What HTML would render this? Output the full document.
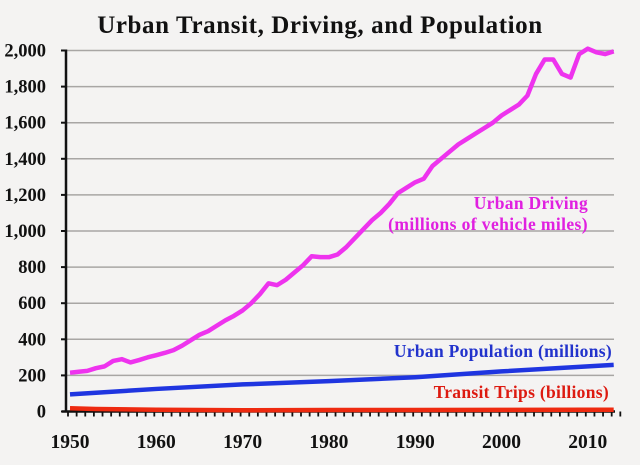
<!DOCTYPE html>
<html><head><meta charset="utf-8"><style>
body{margin:0;background:#f4f3f2;}
svg{display:block;font-family:"Liberation Serif",serif;font-weight:bold;}
</style></head><body>
<svg id="chart" width="640" height="465">
<rect width="640" height="465" fill="#f4f3f2"/>
<text x="320" y="33" text-anchor="middle" font-size="25" letter-spacing="0.6" fill="#111">Urban Transit, Driving, and Population</text>
<g id="grid"></g><g id="axes"></g><g id="series"></g>
<text x="588" y="209" text-anchor="end" font-size="17.5" letter-spacing="0.3" fill="#e020e0">Urban Driving</text>
<text x="588" y="230" text-anchor="end" font-size="17.5" letter-spacing="0.4" fill="#e020e0">(millions of vehicle miles)</text>
<text x="612" y="357" text-anchor="end" font-size="17.5" letter-spacing="0.3" fill="#2233cc">Urban Population (millions)</text>
<text x="609" y="398" text-anchor="end" font-size="17.5" letter-spacing="0.3" fill="#dd1a10">Transit Trips (billions)</text>
</svg>
<script>
const years=[];for(let y=1950;y<=2013;y++)years.push(y);
const driving=[215,220,225,240,250,280,290,272,285,300,312,325,340,365,395,425,445,475,505,530,560,600,650,710,700,730,770,810,860,855,855,870,910,960,1010,1060,1100,1150,1210,1240,1270,1290,1360,1400,1440,1480,1510,1540,1570,1600,1640,1670,1700,1750,1870,1950,1950,1870,1850,1980,2010,1990,1980,1995];
const popYears=[1950,1960,1970,1980,1990,2000,2010,2013];
const population=[95,125,150,168,190,222,250,258];
const transitYears=[1950,1953,1960,1970,1980,1990,2000,2010,2013];
const transit=[18,14,10,7,8,8.5,9,10,10];
const yTicks=[0,200,400,600,800,1000,1200,1400,1600,1800,2000];
const xTickLabels=[1950,1960,1970,1980,1990,2000,2010];
const NS='http://www.w3.org/2000/svg';
const X=y=>70+(y-1950)*86.3/10;
const Y=v=>411.5-v*0.1805;
function mk(t,a,p){const e=document.createElementNS(NS,t);for(const k in a)e.setAttribute(k,a[k]);p.appendChild(e);return e;}
const grid=document.getElementById('grid'),axes=document.getElementById('axes'),series=document.getElementById('series');
yTicks.forEach(v=>{
 if(v>0){const g=mk('line',{x1:66,x2:614,y1:Y(v),y2:Y(v),stroke:'#a8a6a4','stroke-width':1.5},grid);
 
 }
 const t=mk('line',{x1:61,x2:66,y1:Y(v),y2:Y(v),stroke:'#111','stroke-width':2},axes);
 
 
 const l=mk('text',{x:46,y:Y(v)+6,'text-anchor':'end','font-size':18.5,fill:'#111'},axes);
 l.textContent=v.toLocaleString('en-US');
 
 
});
const ya=mk('line',{x1:66,x2:66,y1:Y(2000)-1,y2:Y(0),stroke:'#111','stroke-width':2.5},axes);


const xa=mk('line',{x1:62,x2:615,y1:Y(0),y2:Y(0),stroke:'#111','stroke-width':2.5},axes);


for(let y=1950;y<=2014;y++){const t=mk('line',{x1:X(y)-2,x2:X(y)-2,y1:Y(0),y2:Y(0)+5,stroke:'#111','stroke-width':1.8},axes);
 
 }
xTickLabels.forEach(y=>{const l=mk('text',{x:X(y),y:448,'text-anchor':'middle','font-size':19.5,fill:'#111'},axes);
 l.textContent=y;
 
 });
function line(xs,vs,col,name){const p=mk('polyline',{points:xs.map((x,i)=>X(x)+','+Y(vs[i])).join(' '),fill:'none',stroke:col,'stroke-width':4.5,'stroke-linejoin':'round'},series);
 
 }
line(transitYears,transit,'#ee2a10','transit-line');
line(popYears,population,'#1f35e0','population-line');
line(years,driving,'#ee33ee','driving-line');
</script>
</body></html>
